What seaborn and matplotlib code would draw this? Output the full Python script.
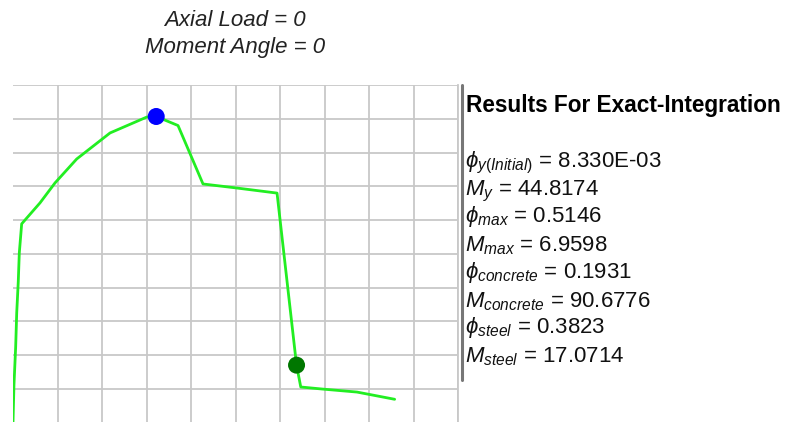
import matplotlib
matplotlib.use("Agg")
import matplotlib.pyplot as plt
from matplotlib.lines import Line2D
import seaborn as sns
import pandas as pd

# ---- data ----
curvature = [0.0, 0.0013, 0.0036, 0.0050, 0.0071, 0.0085, 0.0117, 0.0364, 0.0566,
             0.0859, 0.1308, 0.1803, 0.1931, 0.2225, 0.2562, 0.3020, 0.3560,
             0.3823, 0.3880, 0.4166, 0.4638, 0.5146]
moment = [0.0, 11.2, 22.5, 32.5, 41.8, 50.3, 58.9, 65.1, 71.0, 78.1, 85.8, 90.5,
          90.6776, 88.0, 70.7, 69.5, 68.0, 17.0714, 10.6, 10.0, 9.1, 6.9598]
concrete_pt = (0.1931, 90.6776)
steel_pt = (0.3823, 17.0714)

title_lines = ["Axial Load = 0", "Moment Angle = 0"]
results_title = "Results For Exact-Integration"
results_lines = [
    r"$\phi_{y(Initial)}$ = 8.330E-03",
    r"$M_{y}$ = 44.8174",
    r"$\phi_{max}$ = 0.5146",
    r"$M_{max}$ = 6.9598",
    r"$\phi_{concrete}$ = 0.1931",
    r"$M_{concrete}$ = 90.6776",
    r"$\phi_{steel}$ = 0.3823",
    r"$M_{steel}$ = 17.0714",
]

sns.set_theme(style="white")
plt.rcParams["font.family"] = ["Liberation Sans", "DejaVu Sans"]
plt.rcParams["mathtext.fontset"] = "custom"
plt.rcParams["mathtext.rm"] = "Liberation Sans"
plt.rcParams["mathtext.it"] = "Liberation Sans:italic"
plt.rcParams["mathtext.bf"] = "Liberation Sans:bold"
plt.rcParams["mathtext.fallback"] = "stixsans"

W, H = 786, 422
fig = plt.figure(figsize=(W / 100, H / 100), dpi=100)
ax = fig.add_axes([13 / W, (H - 422.8) / H, (458 - 13) / W, (422.8 - 85) / H])

df = pd.DataFrame({"phi": curvature, "M": moment})
sns.lineplot(data=df, x="phi", y="M", sort=False, estimator=None, ax=ax,
             color="#22ee22", linewidth=2.0, zorder=3)
pts = pd.DataFrame({"phi": [concrete_pt[0], steel_pt[0]],
                    "M": [concrete_pt[1], steel_pt[1]],
                    "kind": ["concrete", "steel"]})
sns.scatterplot(data=pts, x="phi", y="M", hue="kind",
                palette={"concrete": "#0000ff", "steel": "#007700"},
                s=150, edgecolor="none", legend=False, ax=ax, zorder=4)

ax.set_xlim(0, 0.6)
ax.set_ylim(0, 100)
ax.set_xticks([0.06 * i for i in range(1, 11)])
ax.set_yticks([10 * i for i in range(1, 11)])
ax.grid(True, color="#c8c8c8", linewidth=1.3)
ax.tick_params(length=0, labelbottom=False, labelleft=False)
ax.set_xlabel("")
ax.set_ylabel("")
for s in ["left", "bottom", "top"]:
    ax.spines[s].set_visible(False)
ax.spines["right"].set_color("#c8c8c8")
ax.spines["right"].set_linewidth(1.3)

# titles
fig.text(235 / W, 1 - 26 / H, title_lines[0], ha="center", va="baseline",
         fontsize=16, style="italic", color="#222222")
fig.text(235 / W, 1 - 53 / H, title_lines[1], ha="center", va="baseline",
         fontsize=16, style="italic", color="#222222")

# separator bar
fig.add_artist(Line2D([462 / W, 462 / W], [1 - 85 / H, 1 - 380 / H],
                      color="#777777", linewidth=2.2))

# results panel
fig.text(466 / W, 1 - 112 / H, results_title, ha="left", va="baseline",
         fontsize=16.25, fontweight="bold", color="black")
baselines = [167, 195, 222, 251, 278, 307, 333, 362]
for txt, b in zip(results_lines, baselines):
    fig.text(465 / W, 1 - b / H, txt, ha="left", va="baseline",
             fontsize=16, color="#111111")

fig.savefig("out.png", dpi=100)
